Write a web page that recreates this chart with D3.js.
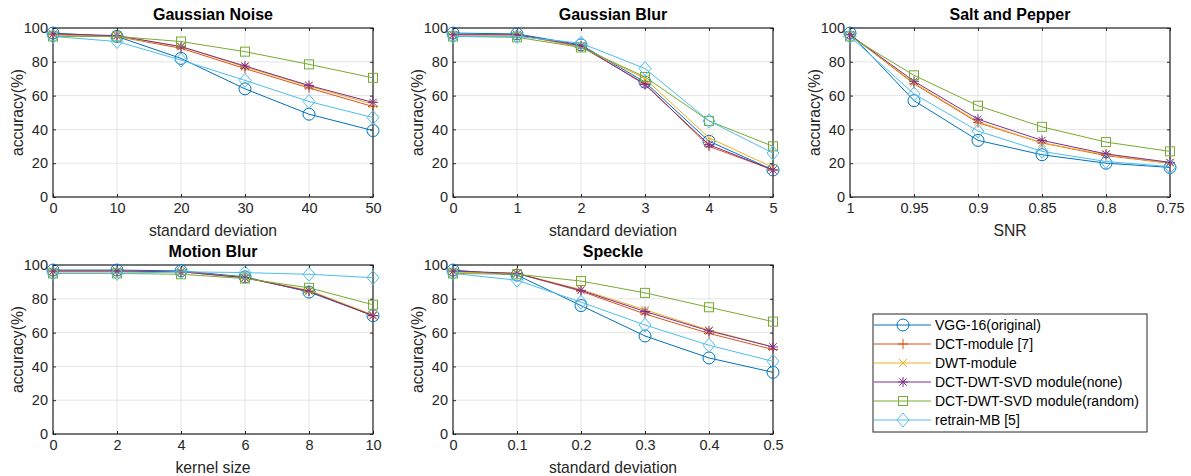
<!DOCTYPE html>
<html>
<head>
<meta charset="utf-8">
<script src="https://cdn.jsdelivr.net/npm/d3@7"></script>
<style>
  body { margin: 0; background: #fff; }
  svg { font-family: "Liberation Sans", Arial, sans-serif; }
</style>
</head>
<body>
<div id="viz"></div>
<script>
// methods (legend order)
var methods = ["VGG-16(original)", "DCT-module [7]", "DWT-module",
  "DCT-DWT-SVD module(none)", "DCT-DWT-SVD module(random)", "retrain-MB [5]"];
var colors = ["#0072BD", "#D95319", "#EDB120", "#7E2F8E", "#77AC30", "#4DBEEE"];
var markers = ["circle", "plus", "cross", "star", "square", "diamond"];

var yTicks = [0, 20, 40, 60, 80, 100];

var noiseX = [0, 10, 20, 30, 40, 50];
var noiseVals = [
  [97, 95, 82, 64, 49, 39.3],
  [96, 95, 88, 76, 64.5, 53.5],
  [96, 95, 89, 77, 65.5, 55],
  [96.5, 95.5, 89, 77.5, 66, 56],
  [95, 95, 92, 86, 78.5, 70.5],
  [95, 92, 81, 69, 56.5, 47]
];

var blurX = [0, 1, 2, 3, 4, 5];
var blurVals = [
  [97, 96.5, 90, 68, 33, 16],
  [96, 96, 89, 67, 30, 16],
  [96, 96, 89, 70, 35, 17.5],
  [96, 96, 89.5, 66.5, 31, 16],
  [95, 94.5, 88.5, 71, 45, 30],
  [95, 95, 91, 76, 45, 26]
];

var spX = [1, 0.95, 0.9, 0.85, 0.8, 0.75];
var spVals = [
  [97, 57, 33.5, 25, 20, 17.5],
  [96, 67, 44, 32, 24.5, 20],
  [96, 67.5, 44.5, 32, 25, 20],
  [96, 68.5, 46, 33.5, 25.5, 20.5],
  [95, 72, 54, 41.5, 32.5, 27],
  [95, 61, 39, 27, 21, 18]
];

var motionX = [0, 2, 4, 6, 8, 10];
var motionVals = [
  [97, 97, 96.5, 93, 84, 70],
  [96, 96, 96, 92.5, 84.5, 70],
  [96, 96, 96, 92.5, 85, 70.5],
  [96.5, 96.5, 96, 92.5, 84.5, 70],
  [95, 95, 94.5, 92, 86.5, 76.5],
  [95, 95, 96, 95.5, 94.5, 92.5]
];

var speckleX = [0, 0.1, 0.2, 0.3, 0.4, 0.5];
var speckleVals = [
  [97, 94, 76, 58, 45, 36.5],
  [96, 95, 84.5, 71, 59.5, 50],
  [96, 95, 85.5, 73.5, 61.5, 51.5],
  [96.5, 95, 85, 72.5, 61, 51.5],
  [95, 94.5, 90.5, 83.5, 75, 66.5],
  [95, 91, 78, 64.5, 52.5, 43]
];

var panels = [
  {title: "Gaussian Noise", xlabel: "standard deviation", x: noiseX, vals: noiseVals, left: 53, top: 28},
  {title: "Gaussian Blur", xlabel: "standard deviation", x: blurX, vals: blurVals, left: 453, top: 28},
  {title: "Salt and Pepper", xlabel: "SNR", x: spX, vals: spVals, left: 850, top: 28},
  {title: "Motion Blur", xlabel: "kernel size", x: motionX, vals: motionVals, left: 53, top: 265},
  {title: "Speckle", xlabel: "standard deviation", x: speckleX, vals: speckleVals, left: 453, top: 265}
];

var W = 320, H = 169;
var axisColor = "#262626";

var svg = d3.select("#viz").append("svg")
    .attr("width", 1191)
    .attr("height", 476);

function drawMarker(g, type, color) {
  if (type == "circle") {
    g.append("circle").attr("r", 6).attr("fill", "none").attr("stroke", color);
  } else if (type == "plus") {
    g.append("path").attr("d", "M-5,0H5M0,-5V5").attr("stroke", color);
  } else if (type == "cross") {
    g.append("path").attr("d", "M-4,-4L4,4M-4,4L4,-4").attr("stroke", color);
  } else if (type == "star") {
    g.append("path").attr("d", "M-5,0H5M0,-5V5M-3.6,-3.6L3.6,3.6M-3.6,3.6L3.6,-3.6").attr("stroke", color);
  } else if (type == "square") {
    g.append("rect").attr("x", -4.5).attr("y", -4.5).attr("width", 9).attr("height", 9)
      .attr("fill", "none").attr("stroke", color);
  } else if (type == "diamond") {
    g.append("path").attr("d", "M0,-7L6,0L0,7L-6,0Z").attr("fill", "none").attr("stroke", color);
  }
}

panels.forEach(function(p) {
  var g = svg.append("g").attr("transform", "translate(" + p.left + "," + p.top + ")");
  var x = d3.scaleLinear().domain([p.x[0], p.x[p.x.length - 1]]).range([0, W]);
  var y = d3.scaleLinear().domain([0, 100]).range([H, 0]);

  // grid
  g.selectAll(".gx").data(p.x).enter().append("line")
    .attr("x1", function(d){ return x(d); }).attr("x2", function(d){ return x(d); })
    .attr("y1", 0).attr("y2", H)
    .attr("stroke", "#e5e5e5");
  g.selectAll(".gy").data(yTicks).enter().append("line")
    .attr("x1", 0).attr("x2", W)
    .attr("y1", function(d){ return y(d); }).attr("y2", function(d){ return y(d); })
    .attr("stroke", "#e5e5e5");

  // box
  g.append("rect").attr("width", W).attr("height", H)
    .attr("fill", "none").attr("stroke", axisColor).attr("stroke-width", 1.2);

  // inward ticks
  var xa = g.append("g").attr("transform", "translate(0," + H + ")")
    .call(d3.axisBottom(x).tickValues(p.x).tickSizeInner(-3).tickSizeOuter(0)
      .tickPadding(6).tickFormat(d3.format("")));
  var ya = g.append("g")
    .call(d3.axisLeft(y).tickValues(yTicks).tickSizeInner(-3).tickSizeOuter(0).tickPadding(5));
  g.append("g").call(d3.axisTop(x).tickValues(p.x).tickSizeInner(-3).tickSizeOuter(0).tickFormat(""));
  g.append("g").attr("transform", "translate(" + W + ",0)")
    .call(d3.axisRight(y).tickValues(yTicks).tickSizeInner(-3).tickSizeOuter(0).tickFormat(""));
  g.selectAll(".domain").remove();
  g.selectAll(".tick line").attr("stroke", axisColor);
  [xa, ya].forEach(function(a){
    a.selectAll("text").attr("fill", "#262626").style("font-size", "14.5px")
      .style("font-family", "Liberation Sans, Arial, sans-serif");
  });

  // title & labels
  g.append("text").attr("x", W / 2).attr("y", -8).attr("text-anchor", "middle")
    .style("font-size", "16px").style("font-weight", "bold").text(p.title);
  g.append("text").attr("x", W / 2).attr("y", H + 39).attr("text-anchor", "middle")
    .attr("fill", "#262626").style("font-size", "15.7px").text(p.xlabel);
  g.append("text").attr("transform", "translate(-30," + (H / 2) + ") rotate(-90)")
    .attr("text-anchor", "middle").attr("fill", "#262626")
    .style("font-size", "15.7px").text("accuracy(%)");

  // lines
  var line = d3.line()
    .x(function(d, i){ return x(p.x[i]); })
    .y(function(d){ return y(d); });

  p.vals.forEach(function(series, k) {
    g.append("path").datum(series).attr("d", line)
      .attr("fill", "none").attr("stroke", colors[k]).attr("stroke-width", 1);
    series.forEach(function(v, i) {
      var mg = g.append("g").attr("transform", "translate(" + x(p.x[i]) + "," + y(v) + ")");
      drawMarker(mg, markers[k], colors[k]);
    });
  });
});

// legend
var lg = svg.append("g").attr("transform", "translate(873,314)");
lg.append("rect").attr("width", 274).attr("height", 118)
  .attr("fill", "#fff").attr("stroke", axisColor).attr("stroke-width", 1);
methods.forEach(function(m, k) {
  var ry = 11 + k * 19;
  lg.append("line").attr("x1", 1).attr("x2", 58).attr("y1", ry).attr("y2", ry)
    .attr("stroke", colors[k]);
  var mg = lg.append("g").attr("transform", "translate(30," + ry + ")");
  drawMarker(mg, markers[k], colors[k]);
  lg.append("text").attr("x", 62).attr("y", ry + 5)
    .attr("fill", "#000").style("font-size", "14px").text(m);
});
</script>
</body>
</html>
